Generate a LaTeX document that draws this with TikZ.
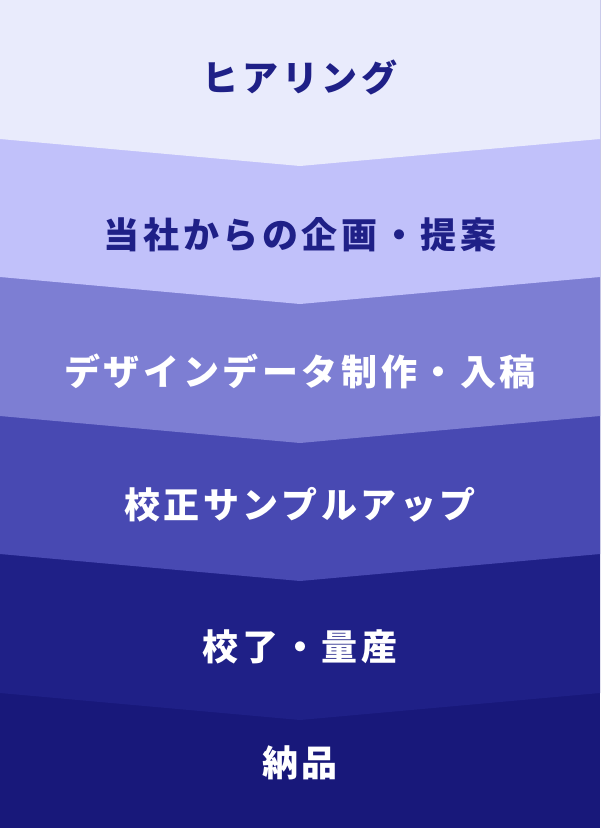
\documentclass[tikz,border=0pt]{standalone}
\usepackage{fontspec}
\setmainfont{Noto Sans CJK JP}
\usepackage{tikz}

\definecolor{bandA}{HTML}{E9EBFC}
\definecolor{bandB}{HTML}{C1C1FA}
\definecolor{bandC}{HTML}{7D7ED3}
\definecolor{bandD}{HTML}{4849B2}
\definecolor{bandE}{HTML}{1F2087}
\definecolor{bandF}{HTML}{18187A}
\definecolor{navy}{HTML}{1F2087}

\tikzset{
  steplabel/.style={font=\fontsize{27}{30}\selectfont\bfseries\addfontfeature{LetterSpace=10}, inner sep=0pt}
}

\begin{document}
\begin{tikzpicture}[x=0.75pt,y=-0.75pt]
\useasboundingbox (0,0) rectangle (600,828);
\fill [bandF] (0,0) rectangle (600,828);
% bands, bottom one first
\foreach \e/\c in {693/bandE, 554/bandD, 416/bandC, 277/bandB, 139/bandA}
  \fill [\c] (0,0) -- (600,0) -- (600,\e) -- (300,\e+27) -- (0,\e) -- cycle;
\node [steplabel, text=navy] (hearing) at (300,77) {ヒアリング};
\node [steplabel, text=navy] (proposal) at (300,235) {当社からの企画・提案};
\node [steplabel, text=white] (design) at (300,371) {デザインデータ制作・入稿};
\node [steplabel, text=white] (sample) at (300,505) {校正サンプルアップ};
\node [steplabel, text=white] (mass) at (300,647) {校了・量産};
\node [steplabel, text=white] (delivery) at (300,763) {納品};
\end{tikzpicture}
\end{document}
